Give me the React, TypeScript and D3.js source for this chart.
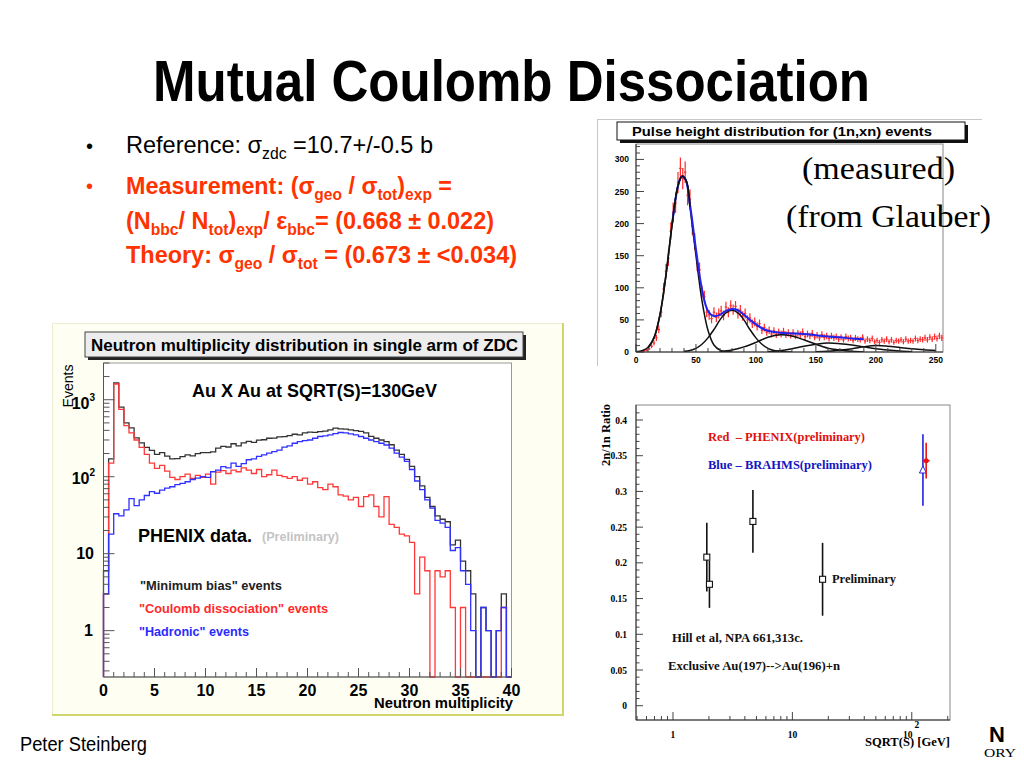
import React, { useEffect, useRef } from 'react';
import * as d3 from 'd3';

// ---------- left panel: neutron multiplicity in one ZDC arm (bins of 0.5, 0..40)
const MULT_BIN = 0.5;
const minBiasEvents = [
  6, 170, 1650, 800, 500, 430, 320, 275, 240, 220,
  195, 205, 185, 170, 172, 182, 192, 186, 200, 205,
  205, 210, 235, 248, 243, 268, 252, 275, 288, 280,
  298, 302, 316, 318, 330, 332, 342, 356, 350, 372,
  380, 376, 386, 390, 405, 428, 418, 415, 405, 396,
  388, 370, 335, 316, 300, 285, 260, 222, 195, 168,
  136, 100, 76, 54, 41, 31, 28, 26, 13, 15,
  8, 6, 3, 0, 2, 1, 0, 1, 3, 0,
];
const coulombEvents = [
  3, 150, 1600, 750, 460, 370, 300, 240, 195, 150,
  128, 140, 118, 98, 92, 100, 108, 95, 104, 98,
  108, 80, 115, 120, 110, 122, 116, 130, 122, 110,
  124, 100, 106, 122, 104, 100, 95, 100, 90, 96,
  80, 86, 72, 68, 80, 74, 58, 56, 50, 54,
  41, 55, 58, 41, 30, 55, 24, 22, 18, 17,
  14, 3, 9, 6, 0, 6, 5, 6, 2, 0,
  2, 0, 0, 0, 0, 0, 0, 0, 2, 0,
];
const hadronicEvents = [
  3, 18, 33, 31, 37, 52, 42, 50, 57, 64,
  61, 67, 71, 74, 79, 82, 86, 92, 96, 100,
  98, 116, 122, 135, 130, 150, 136, 148, 166, 170,
  184, 192, 202, 212, 222, 242, 252, 272, 285, 295,
  300, 316, 333, 340, 350, 362, 375, 370, 360, 350,
  333, 316, 300, 285, 272, 258, 235, 202, 180, 158,
  124, 88, 68, 50, 39, 27, 25, 22, 11, 12,
  6, 4, 1, 0, 2, 1, 0, 1, 2, 0,
];
const multTicks = [0, 5, 10, 15, 20, 25, 30, 35, 40];

// ---------- top right: pulse height for (1n,xn) events (bins of 2 ADC)
const PULSE_BIN = 2;
const pulseCounts = [
  0, 0, 1, 2, 3,
  5, 9, 14, 22, 35,
  62, 98, 126, 146, 188,
  218, 232, 264, 286, 270,
  280, 244, 238, 196, 172,
  138, 128, 94, 86, 62,
  58, 52, 62, 54, 60,
  64, 57, 70, 62, 72,
  66, 71, 60, 65, 56,
  60, 50, 53, 44, 47,
  40, 44, 34, 38, 31,
  34, 28, 33, 27, 31,
  28, 32, 27, 30, 26,
  30, 25, 29, 27, 31,
  24, 28, 25, 29, 23,
  26, 22, 27, 23, 25,
  21, 25, 22, 24, 20,
  23, 19, 24, 21, 22,
  18, 22, 20, 19, 23,
  17, 20, 18, 21, 16,
  18, 15, 19, 17, 20,
  16, 19, 15, 18, 17,
  19, 16, 20, 17, 18,
  17, 21, 18, 20, 19,
  22, 19, 23, 20, 24,
  21, 25, 22,
];
const fitTotal: [number, number][] = [
  [15, 22], [20, 58], [25, 120], [30, 198], [35, 258], [38, 273], [41, 270], [45, 230],
  [50, 160], [55, 98], [60, 64], [65, 56], [70, 58], [75, 64], [80, 67], [85, 65],
  [90, 58], [95, 50], [100, 43], [105, 37], [110, 33], [120, 30], [130, 29], [140, 28],
  [150, 26], [160, 24], [170, 23], [180, 21], [190, 20],
];
const fit1n: [number, number][] = [
  [0, 0.3], [5, 2], [10, 7], [15, 22], [20, 58], [25, 120], [30, 197], [35, 259], [38.5, 274],
  [42, 266], [45, 226], [50, 150], [55, 80], [60, 34], [65, 11], [70, 3], [75, 0.7], [80, 0],
];
const fit2n: [number, number][] = [
  [40, 1], [45, 2.4], [50, 5.7], [55, 12], [60, 22], [65, 35], [70, 50], [75, 61], [80, 65],
  [85, 61], [90, 50], [95, 35], [100, 22], [105, 12], [110, 5.7], [115, 2.4], [120, 0.9], [130, 0],
];
const fit3n: [number, number][] = [
  [70, 0.5], [80, 3], [90, 8], [100, 15], [110, 23], [120, 27], [130, 25], [140, 19],
  [150, 12], [160, 6], [170, 3], [180, 1], [190, 0],
];
const fit4n: [number, number][] = [
  [110, 0.5], [120, 2], [130, 5], [140, 9], [150, 12], [160, 14], [170, 13], [180, 11],
  [190, 8], [200, 5], [210, 3], [220, 1.5], [230, 0.5],
];
const fit5n: [number, number][] = [
  [150, 0.5], [160, 1], [170, 3], [180, 5], [190, 8], [200, 10], [210, 9], [220, 7],
  [230, 5], [240, 3.5], [250, 2.5],
];
const pulseXTicks = [0, 50, 100, 150, 200, 250];
const pulseYTicks = [0, 50, 100, 150, 200, 250, 300];

// ---------- bottom right: 2n/1n ratio vs sqrt(s)
const hillEnergy = [1.92, 2.02, 4.67, 17.9];
const hillRatio = [0.208, 0.170, 0.258, 0.177];
const hillErr = [0.048, 0.033, 0.044, 0.051];
const brahmsPoint = { energy: 124, ratio: 0.330, err: 0.05 };
const phenixPoint = { energy: 132, ratio: 0.343, err: 0.025 };
const ratioTicks = [0, 0.05, 0.1, 0.15, 0.2, 0.25, 0.3, 0.35, 0.4];

const NARROW = "'Liberation Sans Narrow', 'Arial Narrow', 'Liberation Sans', Arial, sans-serif";
const SANS = "'Liberation Sans', Arial, Helvetica, sans-serif";
const SERIF = "'Liberation Serif', 'Times New Roman', Times, serif";
const ORANGE = '#ff3300';

type Part = { t: string; sub?: boolean; sup?: boolean };
type Opt = {
  size: number; family: string; weight?: string; fill?: string; anchor?: string;
  len?: number; subSize?: number; shift?: number; rotate?: number;
};

function text(g: any, x: number, y: number, parts: Part[] | string, o: Opt) {
  const t = g.append('text')
    .attr('x', x).attr('y', y)
    .attr('font-family', o.family).attr('font-size', o.size)
    .attr('font-weight', o.weight || 'normal')
    .attr('fill', o.fill || '#000')
    .style('white-space', 'pre');
  if (o.anchor) t.attr('text-anchor', o.anchor);
  if (o.len) t.attr('textLength', o.len).attr('lengthAdjust', 'spacingAndGlyphs');
  if (o.rotate) t.attr('transform', `rotate(${o.rotate},${x},${y})`);
  if (typeof parts === 'string') {
    t.text(parts);
    return t;
  }
  let cur = 0;
  parts.forEach((p) => {
    const target = p.sub ? (o.shift || 5) : p.sup ? -(o.shift || 5) : 0;
    const ts = t.append('tspan').text(p.t).attr('dy', target - cur);
    if (p.sub || p.sup) ts.attr('font-size', o.subSize || o.size * 0.7);
    cur = target;
  });
  return t;
}

function stepPath(vals: number[], bw: number, x: any, y: any, bottom: number) {
  let d = `M${x(0)},${bottom}`;
  vals.forEach((v, i) => {
    const yy = v > 0 ? Math.min(y(v), bottom) : bottom;
    d += `V${yy}H${x((i + 1) * bw)}`;
  });
  return d + `V${bottom}`;
}

function drawHeader(svg: any) {
  const g = svg.append('g');
  text(g, 153, 101, 'Mutual Coulomb Dissociation', {
    size: 58, family: NARROW, weight: 'bold', len: 717,
  });
  text(g, 86, 153, '•', { size: 20, family: SANS });
  text(g, 86, 193, '•', { size: 20, family: SANS, fill: ORANGE });
  text(g, 126, 153, [
    { t: 'Reference: ' }, { t: 'σ' }, { t: 'zdc', sub: true }, { t: ' =10.7+/-0.5 b' },
  ], { size: 24, family: NARROW, len: 307, subSize: 16, shift: 6 });
  const red = { size: 24, family: NARROW, weight: 'bold', fill: ORANGE, subSize: 16, shift: 6 };
  text(g, 126, 194, [
    { t: 'Measurement: (' }, { t: 'σ' }, { t: 'geo', sub: true }, { t: ' / ' }, { t: 'σ' },
    { t: 'tot', sub: true }, { t: ')' }, { t: 'exp', sub: true }, { t: ' =' },
  ], { ...red, len: 326 });
  text(g, 126, 229, [
    { t: '(N' }, { t: 'bbc', sub: true }, { t: '/ N' }, { t: 'tot', sub: true }, { t: ')' },
    { t: 'exp', sub: true }, { t: '/ ε' }, { t: 'bbc', sub: true }, { t: '= (0.668 ± 0.022)' },
  ], { ...red, len: 368 });
  text(g, 126, 263, [
    { t: 'Theory: ' }, { t: 'σ' }, { t: 'geo', sub: true }, { t: ' / ' }, { t: 'σ' },
    { t: 'tot', sub: true }, { t: ' = (0.673 ± <0.034)' },
  ], { ...red, len: 391 });
  text(g, 20, 751, 'Peter Steinberg', { size: 20, family: NARROW, len: 127 });
  text(g, 989, 742, 'N', { size: 22, family: SANS, weight: 'bold' });
  text(g, 984, 757, 'ORY', { size: 13, family: SERIF, len: 32 });
}

function drawMultiplicity(svg: any) {
  const g = svg.append('g');
  g.append('rect').attr('x', 52).attr('y', 323).attr('width', 512).attr('height', 392).attr('fill', '#fefef3');
  g.append('path').attr('d', 'M52,323.5H564M52.5,323V715').attr('stroke', '#eceed2').attr('fill', 'none');
  g.append('path').attr('d', 'M563,323V715H52').attr('stroke', '#cfd76c').attr('stroke-width', 2).attr('fill', 'none');

  const f = { left: 103.5, right: 511.5, top: 363, bottom: 677 };
  const x = d3.scaleLinear().domain([0, 40]).range([f.left, f.right]);
  const y = d3.scaleLog().domain([0.25, 3000]).range([f.bottom, f.top]);

  g.append('rect').attr('x', f.left).attr('y', f.top).attr('width', f.right - f.left)
    .attr('height', f.bottom - f.top).attr('fill', '#fff').attr('stroke', '#999');

  // title box
  g.append('rect').attr('x', 88).attr('y', 335).attr('width', 438).attr('height', 25).attr('fill', '#222');
  g.append('rect').attr('x', 85).attr('y', 332).attr('width', 438).attr('height', 25)
    .attr('fill', '#ededed').attr('stroke', '#444');
  text(g, 91, 351, 'Neutron multiplicity distribution in single arm of ZDC', {
    size: 17, family: SANS, weight: 'bold', len: 427,
  });

  // histograms
  const series: [number[], string][] = [
    [minBiasEvents, '#333333'], [coulombEvents, '#ff3838'], [hadronicEvents, '#3030ff'],
  ];
  series.forEach(([vals, col]) => {
    g.append('path').attr('d', stepPath(vals, MULT_BIN, x, y, f.bottom))
      .attr('fill', 'none').attr('stroke', col).attr('stroke-width', 1.3);
  });

  // axes
  g.append('path').attr('d', `M${f.left},${f.top}V${f.bottom}H${f.right}`)
    .attr('stroke', '#555').attr('fill', 'none');
  y.ticks().forEach((v: number) => {
    const lg = Math.log10(v);
    const major = Math.abs(lg - Math.round(lg)) < 1e-6;
    g.append('line').attr('x1', f.left).attr('x2', f.left + (major ? 11 : 6))
      .attr('y1', y(v)).attr('y2', y(v)).attr('stroke', '#555');
  });
  d3.range(0, 41).forEach((v) => {
    const major = v % 5 === 0;
    g.append('line').attr('x1', x(v)).attr('x2', x(v)).attr('y1', f.bottom)
      .attr('y2', f.bottom - (major ? 9 : 5)).attr('stroke', '#555');
  });
  const tk = { size: 16, family: SANS, weight: 'bold' };
  text(g, 95, 409, [{ t: '10' }, { t: '3', sup: true }], { ...tk, anchor: 'end', subSize: 10, shift: 8 });
  text(g, 95, 484, [{ t: '10' }, { t: '2', sup: true }], { ...tk, anchor: 'end', subSize: 10, shift: 8 });
  text(g, 94, 559, '10', { ...tk, anchor: 'end' });
  text(g, 93, 636, '1', { ...tk, anchor: 'end' });
  multTicks.forEach((v) => text(g, x(v), 696, String(v), { ...tk, anchor: 'middle' }));
  text(g, 513, 708, 'Neutron multiplicity', { size: 15, family: SANS, weight: 'bold', anchor: 'end', len: 139 });
  text(g, 73, 386, 'Events', { size: 15, family: SANS, anchor: 'middle', rotate: -90, len: 43 });

  // annotations
  text(g, 192, 397, 'Au X Au at SQRT(S)=130GeV', { size: 19, family: SANS, weight: 'bold', len: 245 });
  text(g, 138, 542, 'PHENIX data.', { size: 18, family: SANS, weight: 'bold', len: 114 });
  text(g, 262, 541, '(Preliminary)', { size: 12, family: SANS, weight: 'bold', fill: '#c4c4c4', len: 77 });
  text(g, 140, 590, '"Minimum bias" events', { size: 12.5, family: SANS, weight: 'bold', fill: '#222', len: 142 });
  text(g, 139, 613, '"Coulomb dissociation" events', { size: 12.5, family: SANS, weight: 'bold', fill: '#ff2a2a', len: 189 });
  text(g, 139, 636, '"Hadronic" events', { size: 12.5, family: SANS, weight: 'bold', fill: '#2a2aff', len: 110 });
}

function drawPulse(svg: any) {
  const g = svg.append('g');
  g.append('path').attr('d', 'M597,119.5H982M597.5,119V366').attr('stroke', '#c8c8c8').attr('fill', 'none');

  const f = { left: 636, right: 943, top: 144, bottom: 352 };
  const x = d3.scaleLinear().domain([0, 256]).range([f.left, f.right]);
  const y = d3.scaleLinear().domain([0, 324]).range([f.bottom, f.top]);

  g.append('rect').attr('x', f.left).attr('y', f.top).attr('width', f.right - f.left)
    .attr('height', f.bottom - f.top).attr('fill', '#fff').attr('stroke', '#888');

  g.append('rect').attr('x', 620).attr('y', 125).attr('width', 348).attr('height', 18).attr('fill', '#111');
  g.append('rect').attr('x', 617).attr('y', 122).attr('width', 348).attr('height', 18)
    .attr('fill', '#fff').attr('stroke', '#111');
  text(g, 632, 136, 'Pulse height distribution for (1n,xn) events', {
    size: 13.5, family: SANS, weight: 'bold', len: 300,
  });

  const clipId = 'pulse-clip';
  g.append('clipPath').attr('id', clipId).append('rect')
    .attr('x', f.left).attr('y', f.top).attr('width', f.right - f.left).attr('height', f.bottom - f.top);
  const inner = g.append('g').attr('clip-path', `url(#${clipId})`);

  // measured data with statistical errors
  pulseCounts.forEach((v, i) => {
    if (v <= 0) return;
    const e = Math.sqrt(v);
    const xc = x(i * PULSE_BIN + PULSE_BIN / 2);
    inner.append('line').attr('x1', xc).attr('x2', xc).attr('y1', y(v - e)).attr('y2', y(v + e))
      .attr('stroke', '#ff2a2a').attr('stroke-width', 1.2);
    inner.append('line').attr('x1', x(i * PULSE_BIN)).attr('x2', x((i + 1) * PULSE_BIN))
      .attr('y1', y(v)).attr('y2', y(v)).attr('stroke', '#ff2a2a').attr('stroke-width', 1.2);
  });

  const line = d3.line<[number, number]>().x((d) => x(d[0])).y((d) => y(d[1])).curve(d3.curveCatmullRom);
  [fit1n, fit2n, fit3n, fit4n, fit5n].forEach((c) => {
    inner.append('path').attr('d', line(c)).attr('fill', 'none').attr('stroke', '#111').attr('stroke-width', 1.5);
  });
  inner.append('path').attr('d', line(fitTotal.filter((d) => d[0] >= 28)))
    .attr('fill', 'none').attr('stroke', '#2222ee').attr('stroke-width', 2);
  inner.append('path').attr('d', line(fit1n.filter((d) => d[0] >= 10 && d[0] <= 45)))
    .attr('fill', 'none').attr('stroke', '#111').attr('stroke-width', 1.6);

  // axes
  d3.range(0, 321, 10).forEach((v) => {
    const major = v % 50 === 0;
    g.append('line').attr('x1', f.left).attr('x2', f.left + (major ? 8 : 4))
      .attr('y1', y(v)).attr('y2', y(v)).attr('stroke', '#444');
  });
  d3.range(0, 256, 10).forEach((v) => {
    const major = v % 50 === 0;
    g.append('line').attr('x1', x(v)).attr('x2', x(v)).attr('y1', f.bottom)
      .attr('y2', f.bottom - (major ? 8 : 4)).attr('stroke', '#444');
  });
  g.append('path').attr('d', `M${f.left},${f.top}V${f.bottom}H${f.right}`).attr('stroke', '#333').attr('fill', 'none');
  const tk = { size: 8.5, family: SANS, weight: 'bold' };
  pulseYTicks.forEach((v) => text(g, 629, y(v) + 3, String(v), { ...tk, anchor: 'end' }));
  pulseXTicks.forEach((v) => text(g, x(v), 363, String(v), { ...tk, anchor: 'middle' }));

  text(g, 802, 179, '(measured)', { size: 31, family: SERIF, len: 153 });
  text(g, 786, 227, '(from Glauber)', { size: 31, family: SERIF, len: 205 });
}

function drawRatio(svg: any) {
  const g = svg.append('g');
  const f = { left: 636, right: 950, top: 405, bottom: 720 };
  const x = d3.scaleLog().domain([0.49, 209]).range([f.left, f.right]);
  const y = d3.scaleLinear().domain([-0.02, 0.421]).range([f.bottom, f.top]);

  g.append('rect').attr('x', f.left).attr('y', f.top).attr('width', f.right - f.left)
    .attr('height', f.bottom - f.top).attr('fill', '#fff').attr('stroke', '#888');

  d3.range(0, 42).forEach((k) => {
    const v = k / 100;
    const major = k % 5 === 0;
    g.append('line').attr('x1', f.left).attr('x2', f.left + (major ? 7 : 3.5))
      .attr('y1', y(v)).attr('y2', y(v)).attr('stroke', '#444');
  });
  x.ticks().forEach((v: number) => {
    const lg = Math.log10(v);
    const major = Math.abs(lg - Math.round(lg)) < 1e-6;
    g.append('line').attr('x1', x(v)).attr('x2', x(v)).attr('y1', f.bottom)
      .attr('y2', f.bottom - (major ? 8 : 4)).attr('stroke', '#444');
  });
  g.append('path').attr('d', `M${f.left},${f.top}V${f.bottom}H${f.right}`).attr('stroke', '#333').attr('fill', 'none');

  const tk = { size: 9.5, family: SERIF, weight: 'bold' };
  ratioTicks.forEach((v) => text(g, 627, y(v) + 3.5, String(v), { ...tk, anchor: 'end' }));
  text(g, x(1), 738, '1', { ...tk, anchor: 'middle' });
  text(g, x(10), 738, '10', { ...tk, anchor: 'middle' });
  text(g, x(100) - 4, 738, '10', { ...tk, anchor: 'middle' });
  text(g, x(100) + 5, 728, '2', { ...tk, anchor: 'middle' });
  text(g, 950, 746, 'SQRT(S) [GeV]', { size: 11.5, family: SERIF, weight: 'bold', anchor: 'end', len: 85 });
  text(g, 610, 435, '2n/1n Ratio', { size: 11.5, family: SERIF, weight: 'bold', anchor: 'middle', rotate: -90, len: 62 });

  // Hill et al points
  hillEnergy.forEach((e, i) => {
    const cx = x(e);
    g.append('line').attr('x1', cx).attr('x2', cx)
      .attr('y1', y(hillRatio[i] - hillErr[i])).attr('y2', y(hillRatio[i] + hillErr[i]))
      .attr('stroke', '#111').attr('stroke-width', 1.6);
  });
  hillEnergy.forEach((e, i) => {
    g.append('rect').attr('x', x(e) - 3).attr('y', y(hillRatio[i]) - 3).attr('width', 6).attr('height', 6)
      .attr('fill', '#fff').attr('stroke', '#111').attr('stroke-width', 1.1);
  });

  // BRAHMS
  const bx = x(brahmsPoint.energy);
  const by = y(brahmsPoint.ratio);
  g.append('line').attr('x1', bx).attr('x2', bx)
    .attr('y1', y(brahmsPoint.ratio - brahmsPoint.err)).attr('y2', y(brahmsPoint.ratio + brahmsPoint.err))
    .attr('stroke', '#2222dd').attr('stroke-width', 1.6);
  g.append('path').attr('d', `M${bx},${by - 4}L${bx + 3.5},${by + 3}H${bx - 3.5}Z`)
    .attr('fill', '#fff').attr('stroke', '#2222dd').attr('stroke-width', 1);

  // PHENIX
  const px = x(phenixPoint.energy);
  const py = y(phenixPoint.ratio);
  g.append('line').attr('x1', px).attr('x2', px)
    .attr('y1', y(phenixPoint.ratio - phenixPoint.err)).attr('y2', y(phenixPoint.ratio + phenixPoint.err))
    .attr('stroke', '#ee1111').attr('stroke-width', 1.6);
  g.append('line').attr('x1', px - 3.5).attr('x2', px + 3.5).attr('y1', py).attr('y2', py)
    .attr('stroke', '#ee1111').attr('stroke-width', 1.5);
  g.append('circle').attr('cx', px).attr('cy', py).attr('r', 2.5).attr('fill', '#ee1111');

  const lab = { size: 11.5, family: SERIF, weight: 'bold' };
  text(g, 708, 441, 'Red  – PHENIX(preliminary)', { ...lab, fill: '#e01010', len: 157 });
  text(g, 708, 469, 'Blue – BRAHMS(preliminary)', { ...lab, fill: '#1515c0', len: 164 });
  text(g, 832, 583, 'Preliminary', { ...lab, fill: '#111', len: 64 });
  text(g, 672, 642, 'Hill et al, NPA 661,313c.', { ...lab, fill: '#111', len: 131 });
  text(g, 668, 670, 'Exclusive Au(197)-->Au(196)+n', { ...lab, fill: '#111', len: 172 });
}

export default function App() {
  const ref = useRef<SVGSVGElement>(null);

  useEffect(() => {
    if (!ref.current) return;
    const svg = d3.select(ref.current);
    svg.selectAll('*').remove();
    svg.append('rect').attr('width', 1024).attr('height', 768).attr('fill', '#fff');
    drawHeader(svg);
    drawMultiplicity(svg);
    drawPulse(svg);
    drawRatio(svg);
  }, []);

  return (
    <svg
      ref={ref}
      width={1024}
      height={768}
      style={{ position: 'absolute', left: 0, top: 0, display: 'block' }}
    />
  );
}
